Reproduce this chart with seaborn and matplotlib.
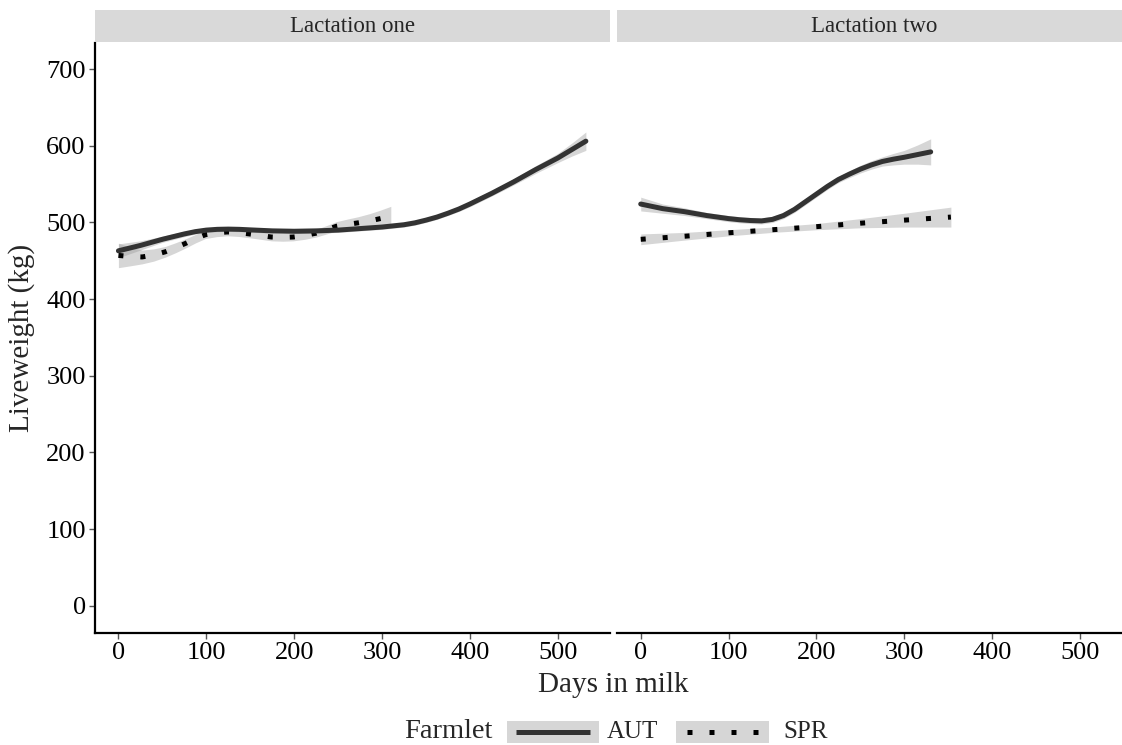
import matplotlib
matplotlib.use("Agg")
import matplotlib.pyplot as plt
import seaborn as sns
from matplotlib.patches import Rectangle
from matplotlib.lines import Line2D

sns.set_theme(style="white")
plt.rcParams['font.family'] = ['Liberation Serif', 'DejaVu Serif']

# Smoothed liveweight curves (kg) by days in milk, with half-width of the confidence band
l1_aut_days = [0, 12.5, 25, 37.5, 50, 62.5, 75, 87.5, 100, 112.5, 125, 137.5, 150, 175, 200, 225, 250, 275,
               300, 325, 337.5, 350, 362.5, 375, 387.5, 400, 412.5, 425, 437.5, 450, 462.5, 475, 487.5,
               500, 516, 532]
l1_aut_lw = [463, 466.5, 470, 474, 478, 481.5, 485, 488, 490, 491, 491.3, 491, 490.3, 489, 488.5, 489, 490, 492,
             494, 497, 499.5, 503, 507, 512, 517.5, 524, 531, 538, 545.5, 553, 561, 569, 576.5,
             584, 595, 606]
l1_aut_hw = [9, 7.5, 6, 5, 4, 3.8, 3.5, 3.2, 3, 3, 3, 3, 3, 3, 3, 3, 3, 3,
             3, 3, 3, 3, 3, 3, 3.2, 3.5, 3.5, 3.5, 3.8, 4, 4.5, 5, 5.5,
             6, 8.5, 12]

l1_spr_days = [0, 14, 27, 40, 53, 65, 77, 88, 99, 112, 124, 137, 149, 162, 174, 187, 199, 212, 225, 237,
               248, 261, 273, 286, 298, 310]
l1_spr_lw = [457, 455.5, 455, 457.5, 461.6, 467, 473, 479, 484, 486.5, 487.6, 486.7, 485, 483, 481, 480.5,
             481, 483, 486, 490.5, 495, 497.5, 499.5, 502, 505, 508]
l1_spr_hw = [16, 12, 9, 8, 7, 6.5, 6, 5.5, 5, 5, 5, 5, 5, 5, 5, 5, 5, 5, 5, 5.5,
             6, 7, 8, 9.5, 11, 13]

l2_aut_days = [0, 12.5, 25, 37.5, 50, 62.5, 75, 87.5, 100, 112.5, 125, 137.5, 150, 162.5, 175, 187.5, 200,
               212.5, 225, 237.5, 250, 262.5, 275, 287.5, 300, 315, 330]
l2_aut_lw = [524, 521, 518, 516, 514, 511.5, 509, 507, 505, 503.5, 502.5, 502, 504, 509, 517, 527, 537,
             547, 556, 563, 569.5, 575, 579.5, 582.5, 585, 588.5, 592]
l2_aut_hw = [9, 7.5, 6, 5.5, 5, 4.5, 4, 4, 4, 4, 4, 4, 4, 4, 4, 4, 4,
             4, 4, 4.5, 5, 5.5, 6, 7.5, 9, 12.5, 17]

l2_spr_days = [0, 50, 100, 150, 200, 250, 300, 353]
l2_spr_lw = [478, 482, 486.5, 490.5, 494.5, 499, 503, 507]
l2_spr_hw = [7, 5, 4, 3.5, 4, 6, 9, 13]

panels = ["Lactation one", "Lactation two"]
y_ticks = [0, 100, 200, 300, 400, 500, 600, 700]
x_ticks = [0, 100, 200, 300, 400, 500]

W, H = 1122, 745
fig = plt.figure(figsize=(W / 100, H / 100), dpi=100)

AUT_COLOR = "#333333"
SPR_COLOR = "#000000"
BAND = "#999999"
LINE_W = 3.6
DOTS = (0, (1, 3.4))


def rect(x0, x1, ytop, ybot):
    return [x0 / W, 1 - ybot / H, (x1 - x0) / W, (ybot - ytop) / H]


panel_top, panel_bot = 43, 632.7
ax1 = fig.add_axes(rect(94.7, 609.6, panel_top, panel_bot))
ax2 = fig.add_axes(rect(617, 1131.9, panel_top, panel_bot))

series = [
    (ax1, l1_aut_days, l1_aut_lw, l1_aut_hw, l1_spr_days, l1_spr_lw, l1_spr_hw),
    (ax2, l2_aut_days, l2_aut_lw, l2_aut_hw, l2_spr_days, l2_spr_lw, l2_spr_hw),
]

for ax, ad, al, ah, sd, sl, sh in series:
    ax.fill_between(ad, [v - h for v, h in zip(al, ah)], [v + h for v, h in zip(al, ah)],
                    color=BAND, alpha=0.4, linewidth=0, zorder=1)
    ax.fill_between(sd, [v - h for v, h in zip(sl, sh)], [v + h for v, h in zip(sl, sh)],
                    color=BAND, alpha=0.4, linewidth=0, zorder=1)
    sns.lineplot(x=sd, y=sl, ax=ax, color=SPR_COLOR, linewidth=LINE_W, zorder=2)
    ax.lines[-1].set_linestyle(DOTS)
    ax.lines[-1].set_dash_capstyle("butt")
    sns.lineplot(x=ad, y=al, ax=ax, color=AUT_COLOR, linewidth=LINE_W, zorder=3)
    ax.lines[-1].set_solid_joinstyle("round")

    ax.set_xlim(-27, 559)
    ax.set_ylim(-35, 734)
    ax.set_xticks(x_ticks)
    ax.set_yticks(y_ticks)
    ax.set_xlabel("")
    ax.set_ylabel("")
    ax.set_facecolor("white")
    ax.tick_params(axis="both", length=4.5, width=1, color="#555555",
                   labelsize=19, pad=2, labelcolor="black")
    for s in ["top", "right"]:
        ax.spines[s].set_visible(False)
    ax.spines["bottom"].set_color("black")
    ax.spines["bottom"].set_linewidth(1.6)
    ax.spines["left"].set_color("black")
    ax.spines["left"].set_linewidth(1.6)

ax1.tick_params(axis="both", bottom=True, left=True)
ax2.spines["left"].set_visible(False)
ax2.tick_params(axis="y", left=False, labelleft=False)
ax2.tick_params(axis="x", bottom=True)

# facet strips
for (x0, x1), title in zip([(94.7, 609.6), (617, 1131.9)], panels):
    sax = fig.add_axes(rect(x0, x1, 10, 42))
    sax.set_facecolor("#d9d9d9")
    sax.set_xticks([])
    sax.set_yticks([])
    for s in sax.spines.values():
        s.set_visible(False)
    sax.text(0.5, 0.5, title, ha="center", va="center", fontsize=16.5, transform=sax.transAxes)

# axis titles
fig.text(613 / W, 1 - 685 / H, "Days in milk", ha="center", va="center", fontsize=21)
fig.text(22 / W, 1 - 338 / H, "Liveweight (kg)", ha="center", va="center", rotation=90, fontsize=21)

# legend
ly = 1 - 732 / H
fig.text(404 / W, ly, "Farmlet", ha="left", va="center", fontsize=20.5)
fig.add_artist(Rectangle((506.7 / W, 1 - 743.3 / H), 92.6 / W, 22.6 / H,
                         transform=fig.transFigure, facecolor="#d6d6d6", edgecolor="none"))
fig.add_artist(Line2D([516 / W, 590 / W], [ly, ly], transform=fig.transFigure,
                      color=AUT_COLOR, linewidth=LINE_W, solid_capstyle="butt"))
fig.text(607 / W, ly, "AUT", ha="left", va="center", fontsize=18)
fig.add_artist(Rectangle((676 / W, 1 - 743.3 / H), 93 / W, 22.6 / H,
                         transform=fig.transFigure, facecolor="#d6d6d6", edgecolor="none"))
fig.add_artist(Line2D([687 / W, 760 / W], [ly, ly], transform=fig.transFigure,
                      color=SPR_COLOR, linewidth=LINE_W, linestyle=DOTS, dash_capstyle="butt"))
fig.text(783 / W, ly, "SPR", ha="left", va="center", fontsize=18)

fig.savefig("out.png", dpi=100)
